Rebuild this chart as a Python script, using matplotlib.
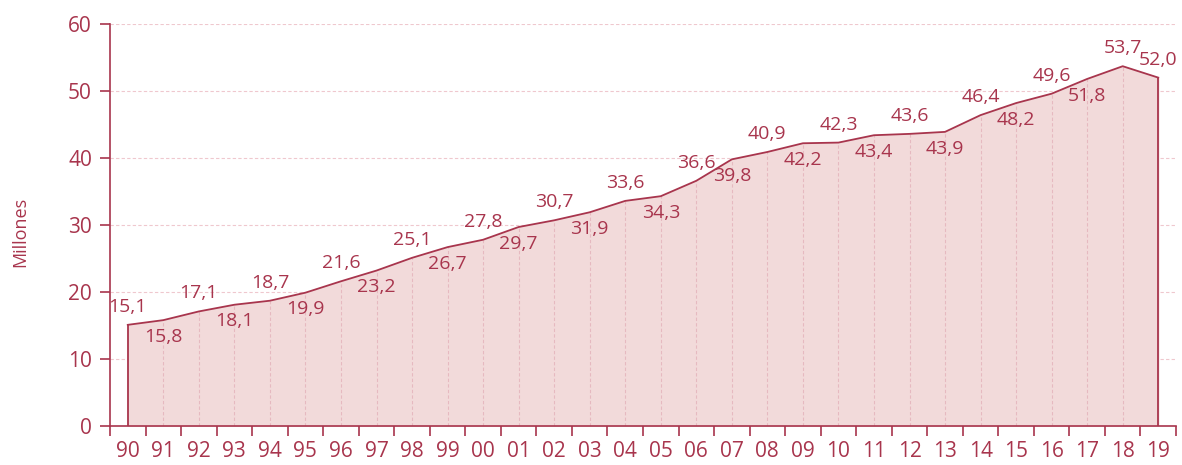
import matplotlib.pyplot as plt
import numpy as np

# data
years = ['90', '91', '92', '93', '94', '95', '96', '97', '98', '99',
         '00', '01', '02', '03', '04', '05', '06', '07', '08', '09',
         '10', '11', '12', '13', '14', '15', '16', '17', '18', '19']
values = [15.1, 15.8, 17.1, 18.1, 18.7, 19.9, 21.6, 23.2, 25.1, 26.7,
          27.8, 29.7, 30.7, 31.9, 33.6, 34.3, 36.6, 39.8, 40.9, 42.2,
          42.3, 43.4, 43.6, 43.9, 46.4, 48.2, 49.6, 51.8, 53.7, 52.0]
label_pos = ['up', 'down'] * 14 + ['up', 'up']

red = '#a8354d'
fill = '#f2dada'
grid = '#efc8ce'

plt.rcParams['font.family'] = ['Open Sans', 'DejaVu Sans']

fig = plt.figure(figsize=(11.82, 4.65), dpi=100)
ax = fig.add_axes([110/1182, 39/465, 1066/1182, 402/465])

x = np.arange(len(years))
ax.fill_between(x, values, 0, color=fill, zorder=1)
ax.plot(x, values, color=red, lw=1.3, zorder=3)
ax.plot([x[0], x[0]], [0, values[0]], color=red, lw=1.3, zorder=3)
ax.plot([x[-1], x[-1]], [0, values[-1]], color=red, lw=1.3, zorder=3)

# drop lines
for i in range(1, len(x) - 1):
    ax.plot([x[i], x[i]], [0, values[i]], color='#e6b9c0', lw=0.8, ls=(0, (3, 2)), zorder=2)

for v in range(10, 61, 10):
    ax.axhline(v, color=grid, lw=0.8, ls=(0, (3, 2)), zorder=0)

for i, v in enumerate(values):
    txt = ('%.1f' % v).replace('.', ',')
    if label_pos[i] == 'up':
        off = 13
    else:
        off = -12
    ax.annotate(txt, (x[i], v), xytext=(0, off), textcoords='offset points',
                ha='center', va='center', fontsize=14, color=red, zorder=5)

ax.set_xlim(-0.5, len(years) - 0.5)
ax.set_ylim(0, 60)
ax.set_yticks(range(0, 61, 10))
ax.set_xticks(x)
ax.set_xticklabels(years)
ax.set_xticks(np.arange(-0.5, len(years), 1), minor=True)
ax.tick_params(axis='x', which='major', length=0, pad=11, labelsize=15, labelcolor=red)
ax.tick_params(axis='x', which='minor', length=7, width=1.2, color=red)
ax.tick_params(axis='y', length=7, width=1.2, color=red, labelsize=15, labelcolor=red, pad=6)

for s in ['top', 'right']:
    ax.spines[s].set_visible(False)
for s in ['left', 'bottom']:
    ax.spines[s].set_color(red)
    ax.spines[s].set_linewidth(1.2)

fig.text(20/1182, 1 - 232/465, 'Millones', rotation=90, ha='center', va='center',
         fontsize=13, color=red)

fig.savefig('out.png', dpi=100)
